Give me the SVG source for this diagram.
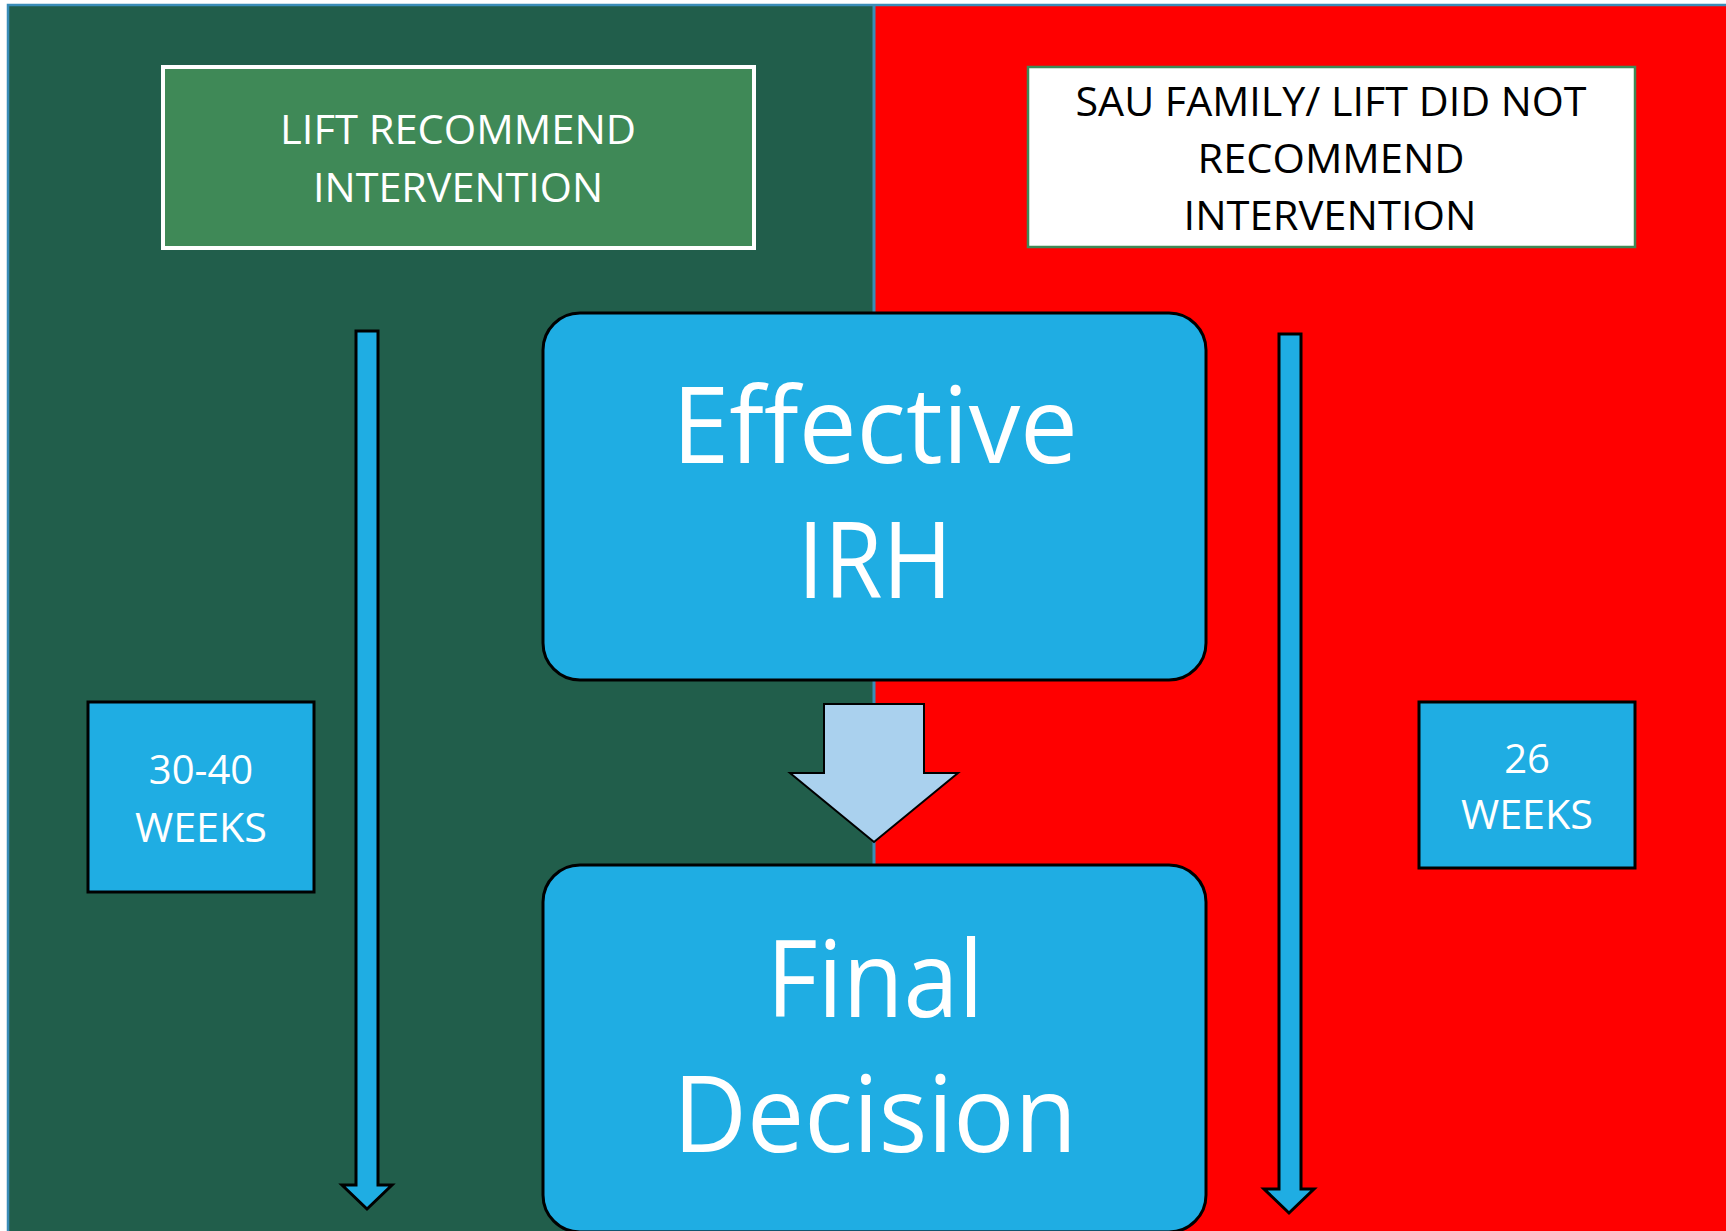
<svg xmlns="http://www.w3.org/2000/svg" width="1726" height="1231" viewBox="0 0 1726 1231">
<style>
.t{font-family:"Open Sans","Noto Sans","Liberation Sans",sans-serif;text-anchor:middle}
.w{fill:#FFFFFF}
.k{fill:#000000}
.blue{fill:#1FADE3;stroke:#000;stroke-width:3}
</style>
<rect x="0" y="0" width="1726" height="1231" fill="#FFFFFF"/>
<g id="panels">
<rect x="8" y="5" width="866" height="1230" fill="#215E4B"/>
<rect x="874" y="5" width="852" height="1230" fill="#FF0000"/>
<path d="M8 1231 V5 H1726" fill="none" stroke="#3A8DB8" stroke-width="2.5"/>
<line x1="874" y1="5" x2="874" y2="1231" stroke="#3A8DB8" stroke-width="3"/>
</g>
<g id="node-lift">
<rect x="163" y="67" width="591" height="181" fill="#3F8957" stroke="#FFFFFF" stroke-width="4"/>
<text class="t w" x="458" y="144" font-size="41" textLength="356" lengthAdjust="spacingAndGlyphs">LIFT RECOMMEND</text>
<text class="t w" x="458" y="202" font-size="41" textLength="290" lengthAdjust="spacingAndGlyphs">INTERVENTION</text>
</g>
<g id="node-sau">
<rect x="1028" y="67" width="607" height="180" fill="#FFFFFF" stroke="#3F8957" stroke-width="2.5"/>
<text class="t k" x="1331" y="116" font-size="41" textLength="511" lengthAdjust="spacingAndGlyphs">SAU FAMILY/ LIFT DID NOT</text>
<text class="t k" x="1331" y="173" font-size="41" textLength="267" lengthAdjust="spacingAndGlyphs">RECOMMEND</text>
<text class="t k" x="1330" y="230" font-size="41" textLength="293" lengthAdjust="spacingAndGlyphs">INTERVENTION</text>
</g>
<g id="node-effective">
<rect x="543" y="313" width="663" height="367" rx="37" ry="37" class="blue"/>
<text class="t w" x="875" y="463" font-size="106" textLength="406" lengthAdjust="spacingAndGlyphs">Effective</text>
<text class="t w" x="875" y="598" font-size="106" textLength="155" lengthAdjust="spacingAndGlyphs">IRH</text>
</g>
<g id="node-final">
<rect x="543" y="865" width="663" height="367" rx="37" ry="37" class="blue"/>
<text class="t w" x="875" y="1017" font-size="106" textLength="217" lengthAdjust="spacingAndGlyphs">Final</text>
<text class="t w" x="875" y="1152" font-size="106" textLength="404" lengthAdjust="spacingAndGlyphs">Decision</text>
</g>
<g id="node-3040">
<rect x="88" y="702" width="226" height="190" class="blue"/>
<text class="t w" x="201" y="784" font-size="40">30-40</text>
<text class="t w" x="201" y="842" font-size="40" textLength="132" lengthAdjust="spacingAndGlyphs">WEEKS</text>
</g>
<g id="node-26">
<rect x="1419" y="702" width="216" height="166" class="blue"/>
<text class="t w" x="1527" y="773" font-size="40">26</text>
<text class="t w" x="1527" y="829" font-size="40" textLength="132" lengthAdjust="spacingAndGlyphs">WEEKS</text>
</g>
<g id="connectors">
<path d="M356 331 H378 V1185 H392 L367 1209 L342 1185 H356 Z" fill="#1FADE3" stroke="#000" stroke-width="3" stroke-linejoin="miter"/>
<path d="M1279 334 H1301 V1189 H1314 L1289 1213 L1264 1189 H1279 Z" fill="#1FADE3" stroke="#000" stroke-width="3" stroke-linejoin="miter"/>
<path d="M824 704 H924 V773 H958 L874 842 L790 773 H824 Z" fill="#AAD1EE" stroke="#000" stroke-width="2"/>
</g>
</svg>
